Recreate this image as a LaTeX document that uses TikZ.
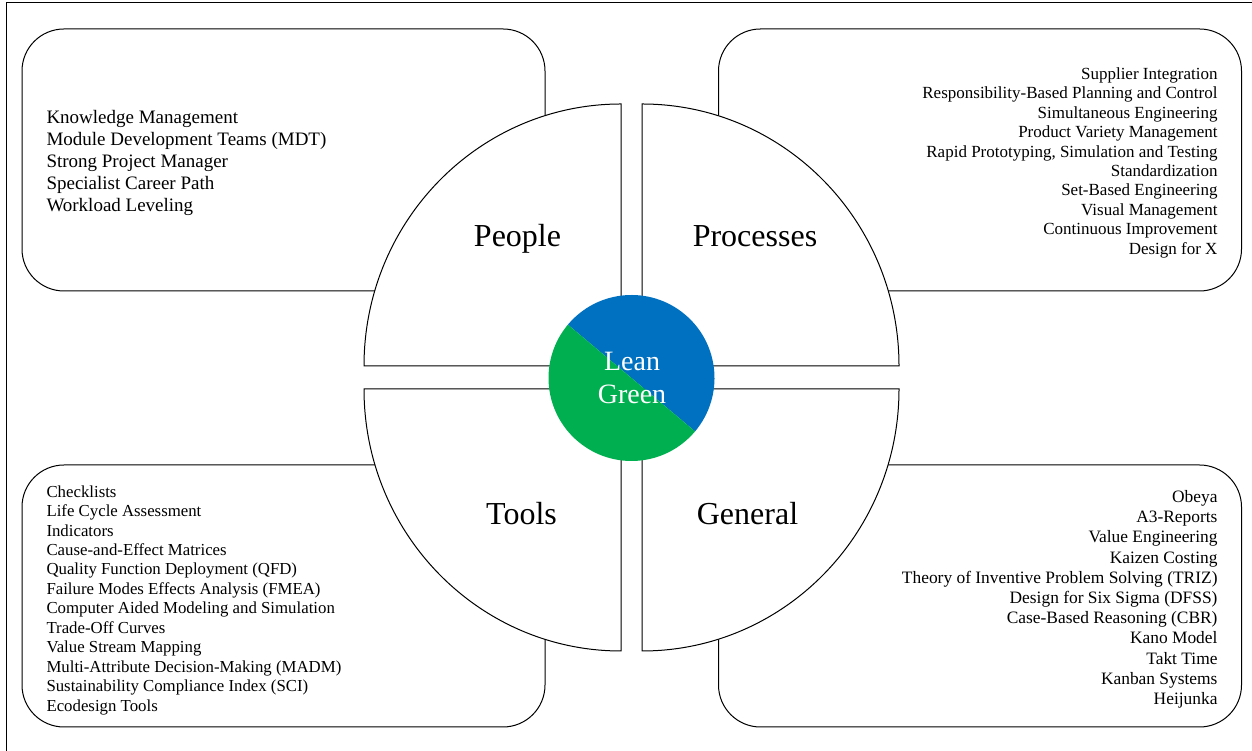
\documentclass[tikz,border=0pt]{standalone}
\usepackage{fontspec}
\setmainfont{Liberation Serif}
\definecolor{leanblue}{HTML}{0070C0}
\definecolor{leangreen}{HTML}{00B050}

\begin{document}
\begin{tikzpicture}
    [x=1pt, y=1pt, line width=1pt,
     box/.style={draw, rounded corners=42pt, minimum width=523pt, minimum height=262pt, inner sep=0pt},
     quad/.style={draw, fill=white},
     items/.style={inner sep=0pt},
     title/.style={inner sep=0pt, anchor=base, font=\fontsize{32}{38}\selectfont}]
    \useasboundingbox (0,0) rectangle (1252,751);
    \draw (1252,748) -- (6,748) -- (6,0);

    % the four lists
    \node (pbox) [box] at (283.5,591) { };
    \node (rbox) [box] at (980,591) { };
    \node (tbox) [box] at (283.5,155) { };
    \node (gbox) [box] at (980,155) { };

    \node (pitems) [items, anchor=north west, align=left, font=\fontsize{19}{22}\selectfont] at (46,641)
        {Knowledge Management\\Module Development Teams (MDT)\\Strong Project Manager\\Specialist Career Path\\Workload Leveling};
    \node (ritems) [items, anchor=north east, align=right, font=\fontsize{17}{19.45}\selectfont] at (1218,684)
        {Supplier Integration\\Responsibility-Based Planning and Control\\Simultaneous Engineering\\Product Variety Management\\Rapid Prototyping, Simulation and Testing\\Standardization\\Set-Based Engineering\\Visual Management\\Continuous Improvement\\Design for X};
    \node (titems) [items, anchor=north west, align=left, font=\fontsize{16.8}{19.45}\selectfont] at (46,266)
        {Checklists\\Life Cycle Assessment\\Indicators\\Cause-and-Effect Matrices\\Quality Function Deployment (QFD)\\Failure Modes Effects Analysis (FMEA)\\Computer Aided Modeling and Simulation\\Trade-Off Curves\\Value Stream Mapping\\Multi-Attribute Decision-Making (MADM)\\Sustainability Compliance Index (SCI)\\Ecodesign Tools};
    \node (gitems) [items, anchor=north east, align=right, font=\fontsize{17.4}{20.2}\selectfont] at (1218,261)
        {Obeya\\A3-Reports\\Value Engineering\\Kaizen Costing\\Theory of Inventive Problem Solving (TRIZ)\\Design for Six Sigma (DFSS)\\Case-Based Reasoning (CBR)\\Kano Model\\Takt Time\\Kanban Systems\\Heijunka};

    % quarter discs
    \draw[quad] (621,385) -- ++(-257,0) arc[start angle=180, end angle=90, x radius=257, y radius=262] -- cycle;
    \draw[quad] (642,385) -- ++(0,262) arc[start angle=90, end angle=0, x radius=257, y radius=262] -- cycle;
    \draw[quad] (621,362) -- ++(-257,0) arc[start angle=180, end angle=270, x radius=257, y radius=262] -- cycle;
    \draw[quad] (642,362) -- ++(257,0) arc[start angle=0, end angle=-90, x radius=257, y radius=262] -- cycle;

    \node (people) [title] at (517.5,504.3) {People};
    \node (proc) [title] at (755,504.3) {Processes};
    \node (tools) [title] at (521.5,226) {Tools};
    \node (gen) [title] at (747.5,226) {General};

    % centre
    \coordinate (c) at (631.5,373);
    \fill[leanblue] (c) -- ++(140:83) arc[start angle=140, end angle=-40, radius=83] -- cycle;
    \fill[leangreen] (c) -- ++(140:83) arc[start angle=140, end angle=320, radius=83] -- cycle;
    \node (lean) [white, align=center, inner sep=0pt, font=\fontsize{28}{32.5}\selectfont] at (632,373) {Lean\\Green};
\end{tikzpicture}
\end{document}
